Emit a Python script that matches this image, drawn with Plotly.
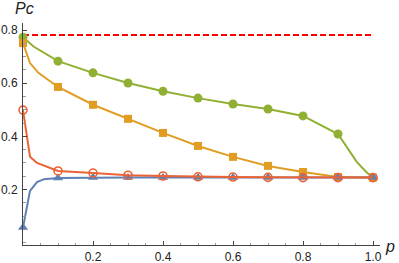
import plotly.graph_objects as go

# marker positions (p = 0, 0.1, ..., 1.0)
p_marks = [0.0, 0.1, 0.2, 0.3, 0.4, 0.5, 0.6, 0.7, 0.8, 0.9, 1.0]
green_marks = [0.773, 0.683, 0.639, 0.601, 0.570, 0.544, 0.522, 0.503, 0.477, 0.409, 0.245]
orange_marks = [0.751, 0.586, 0.519, 0.466, 0.413, 0.364, 0.323, 0.289, 0.266, 0.247, 0.245]
red_marks = [0.499, 0.270, 0.262, 0.254, 0.251, 0.248, 0.247, 0.246, 0.245, 0.245, 0.245]
blue_marks = [0.057, 0.243, 0.245, 0.245, 0.245, 0.245, 0.245, 0.245, 0.245, 0.245, 0.245]

# curve samples
green_line_x = [0.0, 0.03, 0.1, 0.2, 0.3, 0.4, 0.5, 0.6, 0.7, 0.8, 0.9, 0.954, 0.983, 1.0]
green_line_y = [0.773, 0.738, 0.683, 0.639, 0.601, 0.570, 0.544, 0.522, 0.503, 0.477, 0.409, 0.303, 0.263, 0.245]
orange_line_x = [0.0, 0.02, 0.044, 0.1, 0.2, 0.3, 0.4, 0.5, 0.6, 0.7, 0.8, 0.9, 1.0]
orange_line_y = [0.751, 0.676, 0.639, 0.586, 0.519, 0.466, 0.413, 0.364, 0.323, 0.289, 0.266, 0.247, 0.245]
red_line_x = [0.0, 0.02, 0.04, 0.1, 0.2, 0.3, 0.4, 0.5, 0.6, 0.7, 0.8, 0.9, 1.0]
red_line_y = [0.499, 0.323, 0.300, 0.270, 0.262, 0.254, 0.251, 0.248, 0.247, 0.246, 0.245, 0.245, 0.245]
blue_line_x = [0.0, 0.02, 0.04, 0.06, 0.1, 0.2, 0.3, 0.4, 0.5, 0.6, 0.7, 0.8, 0.9, 1.0]
blue_line_y = [0.057, 0.195, 0.228, 0.239, 0.243, 0.245, 0.245, 0.245, 0.245, 0.245, 0.245, 0.245, 0.245, 0.245]

ref_x = [0.0, 1.0]
ref_y = [0.781, 0.781]

x_ticks = [0.2, 0.4, 0.6, 0.8, 1.0]
x_tick_text = ["0.2", "0.4", "0.6", "0.8", "1.0"]
y_ticks = [0.2, 0.4, 0.6, 0.8]
y_tick_text = ["0.2", "0.4", "0.6", "0.8"]

BLUE = "#5E81B5"
ORANGE = "#E19C24"
GREEN = "#8FB032"
RED = "#EB6235"

fig = go.Figure()

fig.add_trace(go.Scatter(x=ref_x, y=ref_y, mode="lines",
                         line=dict(color="#FF0000", width=2, dash="6px,3px")))

fig.add_trace(go.Scatter(x=green_line_x, y=green_line_y, mode="lines",
                         line=dict(color=GREEN, width=2)))
fig.add_trace(go.Scatter(x=p_marks, y=green_marks, mode="markers", cliponaxis=False,
                         marker=dict(symbol="circle", size=9, color=GREEN)))

fig.add_trace(go.Scatter(x=orange_line_x, y=orange_line_y, mode="lines",
                         line=dict(color=ORANGE, width=2)))
fig.add_trace(go.Scatter(x=p_marks, y=orange_marks, mode="markers", cliponaxis=False,
                         marker=dict(symbol="square", size=8, color=ORANGE)))

fig.add_trace(go.Scatter(x=blue_line_x, y=blue_line_y, mode="lines",
                         line=dict(color=BLUE, width=2)))
fig.add_trace(go.Scatter(x=p_marks, y=blue_marks, mode="markers", cliponaxis=False,
                         marker=dict(symbol="triangle-up", size=9, color=BLUE)))

fig.add_trace(go.Scatter(x=red_line_x, y=red_line_y, mode="lines",
                         line=dict(color=RED, width=2)))
fig.add_trace(go.Scatter(x=p_marks, y=red_marks, mode="markers", cliponaxis=False,
                         marker=dict(symbol="circle-open", size=8, color=RED,
                                     line=dict(width=1.6, color=RED))))

axis_font = dict(family="Liberation Sans, Arial, sans-serif", size=12, color="#222")
label_font = dict(family="Liberation Sans, Arial, sans-serif", size=16, color="#222")

fig.update_layout(
    width=399, height=263,
    margin=dict(l=23, r=19, t=23, b=18),
    paper_bgcolor="white", plot_bgcolor="white",
    showlegend=False,
    xaxis=dict(range=[0, 1.02], showgrid=False, zeroline=False, automargin=False,
               showline=True, linecolor="#444", linewidth=1,
               ticks="inside", ticklen=4, tickcolor="#444", ticklabelstandoff=1,
               tickvals=x_ticks, ticktext=x_tick_text, tickfont=axis_font,
               minor=dict(ticks="inside", ticklen=2.5, tickcolor="#999", dtick=0.05, tick0=0)),
    yaxis=dict(range=[-0.0086, 0.8266], showgrid=False, zeroline=False, automargin=False,
               showline=True, linecolor="#444", linewidth=1,
               ticks="inside", ticklen=4, tickcolor="#444", ticklabelstandoff=2,
               tickvals=y_ticks, ticktext=y_tick_text, tickfont=axis_font,
               minor=dict(ticks="inside", ticklen=2.5, tickcolor="#999", dtick=0.05, tick0=0)),
    annotations=[
        dict(text="<i>Pc</i>", xref="paper", yref="paper", x=0, y=1, xshift=1, yshift=15,
             showarrow=False, xanchor="center", yanchor="middle", font=label_font),
        dict(text="<i>p</i>", xref="paper", yref="paper", x=1, y=0, xshift=17, yshift=-1,
             showarrow=False, xanchor="right", yanchor="middle", font=label_font),
    ],
)

fig.write_html("out.html", config={"displayModeBar": False},
               post_script="document.body.style.margin='0';")
